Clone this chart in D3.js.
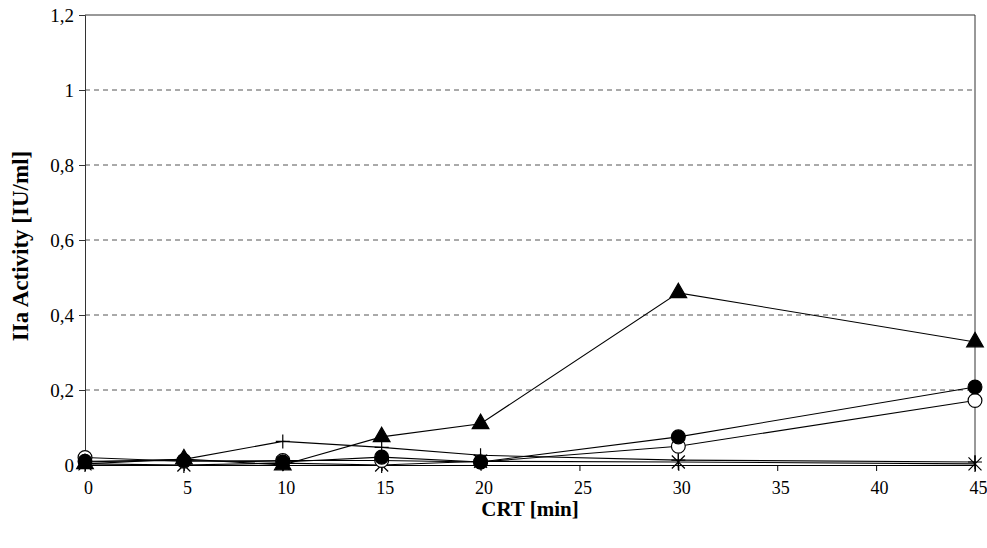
<!DOCTYPE html>
<html>
<head>
<meta charset="utf-8">
<script src="https://cdn.jsdelivr.net/npm/d3@7"></script>
<style>
  html, body { margin: 0; padding: 0; background: #fff; }
  svg { display: block; }
  svg text { font-family: "Liberation Serif", "Times New Roman", Times, "DejaVu Serif", serif; fill: #000; }
</style>
</head>
<body>
<svg id="chart" width="987" height="548"></svg>
<script>
// Sampling times (min)
const times = [0, 5, 10, 15, 20, 30, 45];

// IIa activity per series (IU/ml)
const triangleSeries = [0.003, 0.016, 0.0, 0.075, 0.11, 0.459, 0.328];
const filledCircleSeries = [0.01, 0.012, 0.008, 0.021, 0.008, 0.075, 0.208];
const openCircleSeries = [0.02, 0.01, 0.012, 0.012, 0.008, 0.05, 0.172];
const plusSeries = [0.008, 0.015, 0.063, 0.047, 0.026, 0.013, 0.008];
const starSeries = [0.003, 0.0, 0.005, 0.0, 0.01, 0.008, 0.003];

// Axis ticks
const xTicks = [0, 5, 10, 15, 20, 25, 30, 35, 40, 45];
const yTicks = [0, 0.2, 0.4, 0.6, 0.8, 1, 1.2];

const FONT = "'Liberation Serif', 'Times New Roman', Times, 'DejaVu Serif', serif";

const svg = d3.select("#chart");
const margin = { left: 85, right: 12, top: 15, bottom: 83 };
const W = 987, H = 548;

const x = d3.scaleLinear().domain([0, 45]).range([margin.left, W - margin.right]);
const y = d3.scaleLinear().domain([0, 1.2]).range([H - margin.bottom, margin.top]);

const fmt = v => String(+v.toFixed(1)).replace(".", ",");

// Dashed horizontal gridlines
svg.append("g")
  .selectAll("line")
  .data(yTicks.filter(v => v > 0 && v < 1.2))
  .join("line")
  .attr("x1", x(0)).attr("x2", x(45))
  .attr("y1", d => y(d)).attr("y2", d => y(d))
  .attr("stroke", "#555")
  .attr("stroke-width", 1)
  .attr("stroke-dasharray", "5,4");

// Plot frame (top and right)
svg.append("path")
  .attr("d", `M${x(0)},${y(1.2)}H${x(45)}V${y(0)}`)
  .attr("fill", "none")
  .attr("stroke", "#333")
  .attr("stroke-width", 1);

// Y axis
const yAxis = svg.append("g")
  .attr("transform", `translate(${x(0)},0)`)
  .call(d3.axisLeft(y).tickValues(yTicks).tickFormat(fmt).tickSize(6).tickPadding(5))
  .attr("font-family", FONT);
yAxis.select(".domain").attr("stroke", "#333");
yAxis.selectAll(".tick line").attr("stroke", "#333");
yAxis.selectAll("text").attr("font-size", 19).attr("fill", "#000")
  .style("font-family", FONT);

// X axis
const xAxis = svg.append("g")
  .attr("transform", `translate(0,${y(0)})`)
  .call(d3.axisBottom(x).tickValues(xTicks).tickFormat(d => d).tickSize(6).tickPadding(10))
  .attr("font-family", FONT);
xAxis.select(".domain").attr("stroke", "#000");
xAxis.selectAll(".tick line").attr("stroke", "#000");
xAxis.selectAll("text").attr("font-size", 18).attr("fill", "#000")
  .attr("dx", 3)
  .style("font-family", FONT);

// Axis titles
svg.append("text")
  .attr("x", (x(0) + x(45)) / 2)
  .attr("y", 516)
  .attr("text-anchor", "middle")
  .attr("font-size", 21)
  .attr("font-weight", "bold")
  .style("font-family", FONT)
  .text("CRT [min]");

svg.append("text")
  .attr("transform", `translate(28,246) rotate(-90)`)
  .attr("text-anchor", "middle")
  .attr("font-size", 23)
  .attr("font-weight", "bold")
  .style("font-family", FONT)
  .text("IIa Activity [IU/ml]");

// Marker shapes
const circlePath = d3.symbol().type(d3.symbolCircle).size(150)();
const trianglePath = d3.symbol().type(d3.symbolTriangle).size(120)();
const plusPath = "M-7,0H7M0,-7V7";
const starPath = "M0,-8V8M-6.5,-6.5L6.5,6.5M-6.5,6.5L6.5,-6.5";

const series = [
  { values: starSeries, path: starPath, fill: "none", stroke: "#000" },
  { values: plusSeries, path: plusPath, fill: "none", stroke: "#000" },
  { values: openCircleSeries, path: circlePath, fill: "#fff", stroke: "#000" },
  { values: filledCircleSeries, path: circlePath, fill: "#000", stroke: "#000" },
  { values: triangleSeries, path: trianglePath, fill: "#000", stroke: "#000" }
];

const line = d3.line().x((d, i) => x(times[i])).y(d => y(d));

series.forEach(s => {
  svg.append("path")
    .datum(s.values)
    .attr("d", line)
    .attr("fill", "none")
    .attr("stroke", "#000")
    .attr("stroke-width", 1.1);
});

series.forEach(s => {
  svg.append("g")
    .selectAll("path")
    .data(s.values)
    .join("path")
    .attr("transform", (d, i) => `translate(${x(times[i])},${y(d)})`)
    .attr("d", s.path)
    .attr("fill", s.fill)
    .attr("stroke", s.stroke)
    .attr("stroke-width", 1.2);
});
</script>
</body>
</html>
